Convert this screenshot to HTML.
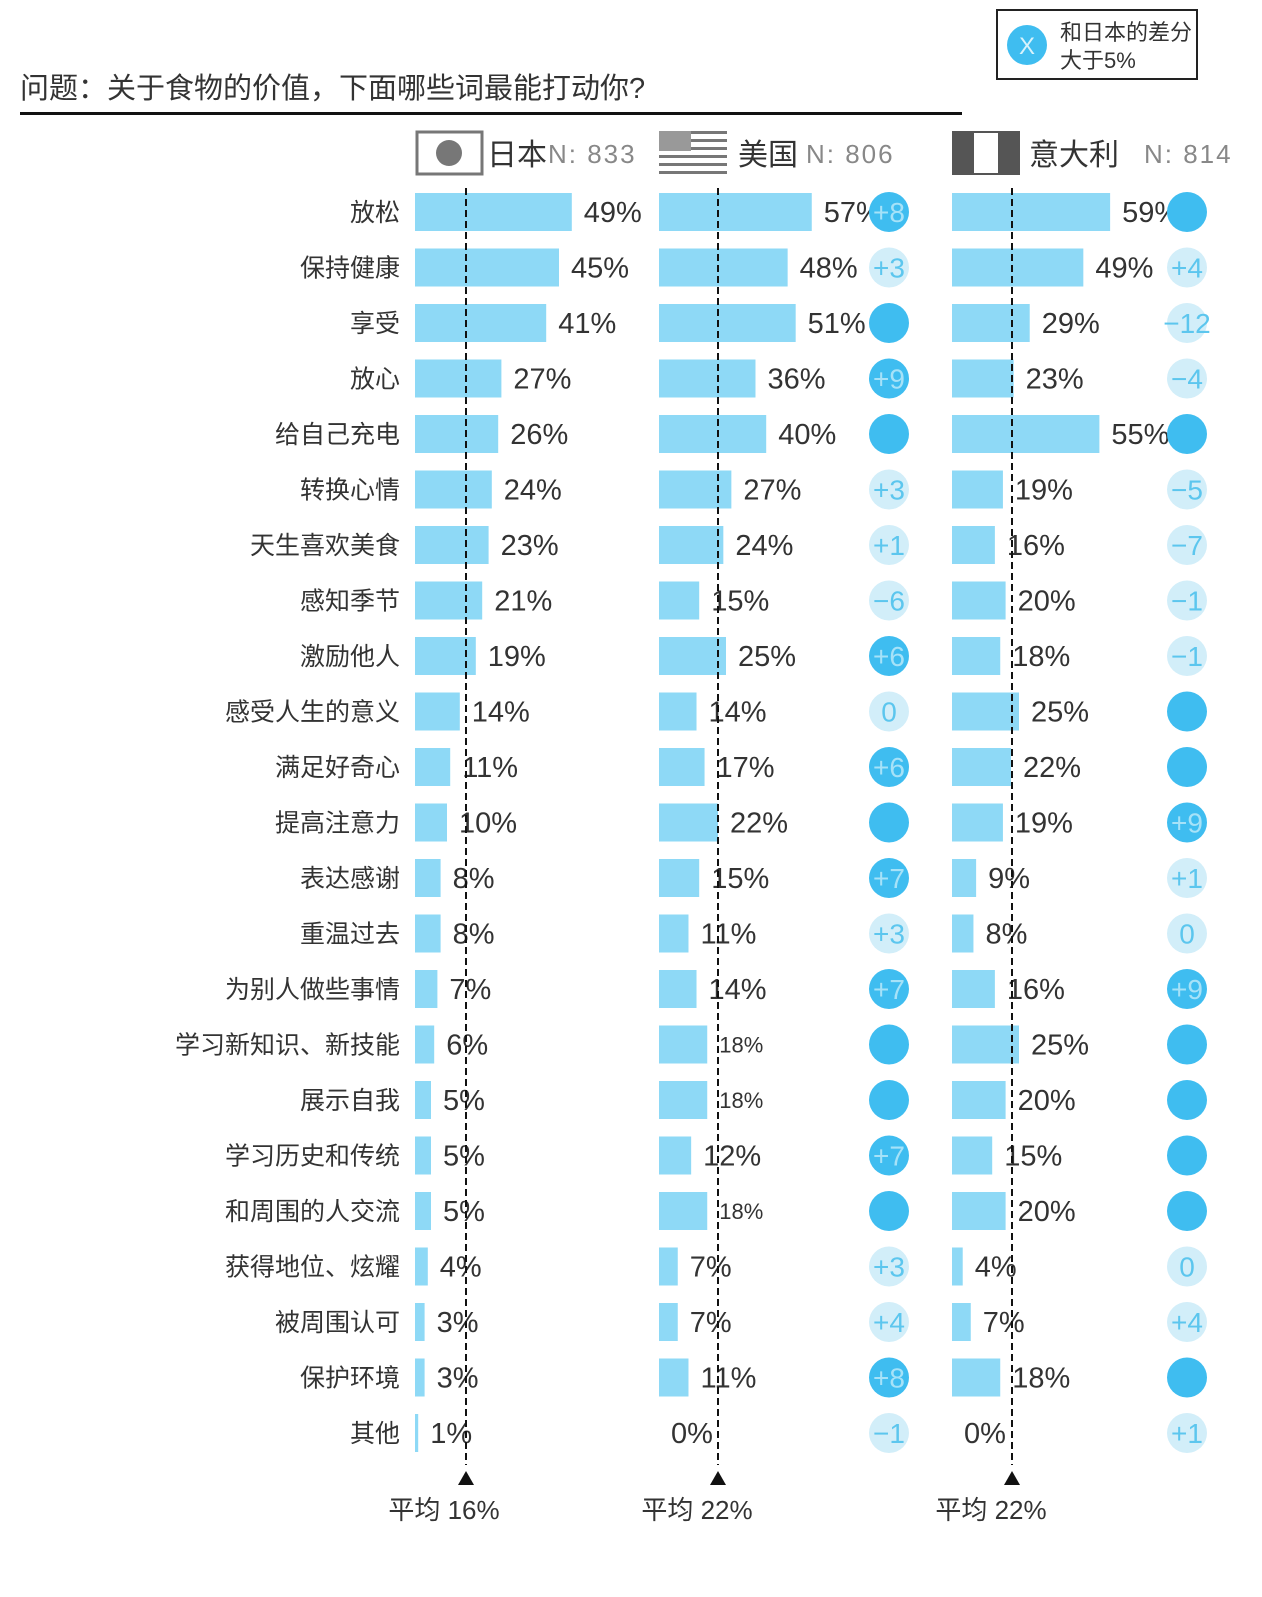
<!DOCTYPE html>
<html><head><meta charset="utf-8"><style>
body{margin:0;background:#fff}
svg text{font-family:"Liberation Sans","Noto Sans CJK SC",sans-serif}
</style></head><body>
<svg id="s" width="1262" height="1592" xmlns="http://www.w3.org/2000/svg">
<rect width="1262" height="1592" fill="#fff"/>
<text x="20" y="98" font-size="29" fill="#333">问题：关于食物的价值，下面哪些词最能打动你?</text>
<rect x="20" y="112" width="942" height="3" fill="#111"/>
<rect x="997" y="10" width="200" height="69" fill="none" stroke="#222" stroke-width="2"/>
<circle cx="1027" cy="45" r="20" fill="#3fbdf0"/>
<text x="1027" y="54" font-size="24" fill="#d8f3fc" text-anchor="middle">X</text>
<text x="1060" y="40" font-size="22" fill="#333">和日本的差分</text>
<text x="1060" y="68" font-size="22" fill="#333">大于5%</text>
<rect x="417" y="132" width="65" height="42" fill="none" stroke="#777" stroke-width="3"/>
<circle cx="449" cy="153" r="13" fill="#777"/>
<text x="487" y="165" font-size="30" fill="#333">日本</text>
<text x="548" y="163" font-size="26" fill="#888" letter-spacing="2">N: 833</text>
<g fill="#777"><rect x="659" y="131" width="68" height="3"/><rect x="659" y="139" width="68" height="3"/><rect x="659" y="147" width="68" height="3"/><rect x="659" y="155" width="68" height="3"/><rect x="659" y="163" width="68" height="3"/><rect x="659" y="171" width="68" height="3"/><rect x="659" y="131" width="32" height="20" fill="#999"/></g>
<text x="738" y="165" font-size="30" fill="#333">美国</text>
<text x="806" y="163" font-size="26" fill="#888" letter-spacing="2">N: 806</text>
<rect x="952" y="131" width="68" height="44" fill="#555"/><rect x="974" y="133" width="24" height="40" fill="#fff"/>
<text x="1029" y="165" font-size="30" fill="#333">意大利</text>
<text x="1144" y="163" font-size="26" fill="#888" letter-spacing="2">N: 814</text>
<g id="rows"></g>
</svg>
<script>
var D=[["放松",49,57,1,"+8",59,1,""],["保持健康",45,48,0,"+3",49,0,"+4"],["享受",41,51,1,"",29,0,"−12"],["放心",27,36,1,"+9",23,0,"−4"],["给自己充电",26,40,1,"",55,1,""],["转换心情",24,27,0,"+3",19,0,"−5"],["天生喜欢美食",23,24,0,"+1",16,0,"−7"],["感知季节",21,15,0,"−6",20,0,"−1"],["激励他人",19,25,1,"+6",18,0,"−1"],["感受人生的意义",14,14,0,"0",25,1,""],["满足好奇心",11,17,1,"+6",22,1,""],["提高注意力",10,22,1,"",19,1,"+9"],["表达感谢",8,15,1,"+7",9,0,"+1"],["重温过去",8,11,0,"+3",8,0,"0"],["为别人做些事情",7,14,1,"+7",16,1,"+9"],["学习新知识、新技能",6,18,1,"",25,1,""],["展示自我",5,18,1,"",20,1,""],["学习历史和传统",5,12,1,"+7",15,1,""],["和周围的人交流",5,18,1,"",20,1,""],["获得地位、炫耀",4,7,0,"+3",4,0,"0"],["被周围认可",3,7,0,"+4",7,0,"+4"],["保护环境",3,11,1,"+8",18,1,""],["其他",1,0,0,"−1",0,0,"+1"]];
var h="";
function bar(x,v,s,cy,small){var w=v*s;h+='<rect x="'+x+'" y="'+(cy-19)+'" width="'+w+'" height="38" fill="#8ed9f6"/>';
h+='<text x="'+(x+w+12)+'" y="'+(cy+(small?8:10))+'" font-size="'+(small?22:29)+'" fill="#333">'+v+'%</text>';}
function circ(cx,cy,d,t){h+='<circle cx="'+cx+'" cy="'+cy+'" r="20" fill="'+(d?"#3fbdf0":"#d2eef9")+'"/>';
if(t)h+='<text x="'+cx+'" y="'+(cy+10)+'" font-size="28" fill="'+(d?"#a6e2f8":"#5cc6ee")+'" text-anchor="middle">'+t+'</text>';}
D.forEach(function(r,i){var cy=212+i*55.5;
h+='<text x="400" y="'+(cy+9)+'" font-size="25" fill="#333" text-anchor="end">'+r[0]+'</text>';
bar(415,r[1],3.2,cy);bar(659,r[2],2.68,cy,r[2]==18);bar(952,r[5],2.68,cy);
circ(889,cy,r[3],r[4]);circ(1187,cy,r[6],r[7]);});
[[466,"平均 16%",444],[718,"平均 22%",697],[1012,"平均 22%",991]].forEach(function(a){
h+='<line x1="'+a[0]+'" y1="188" x2="'+a[0]+'" y2="1465" stroke="#111" stroke-width="2" stroke-dasharray="7,4"/>';
h+='<polygon points="'+(a[0]-8)+',1485 '+(a[0]+8)+',1485 '+a[0]+',1471" fill="#111"/>';
h+='<text x="'+a[2]+'" y="1519" font-size="26" fill="#333" text-anchor="middle">'+a[1]+'</text>';});
document.getElementById("rows").innerHTML=h;
</script>
</body></html>
